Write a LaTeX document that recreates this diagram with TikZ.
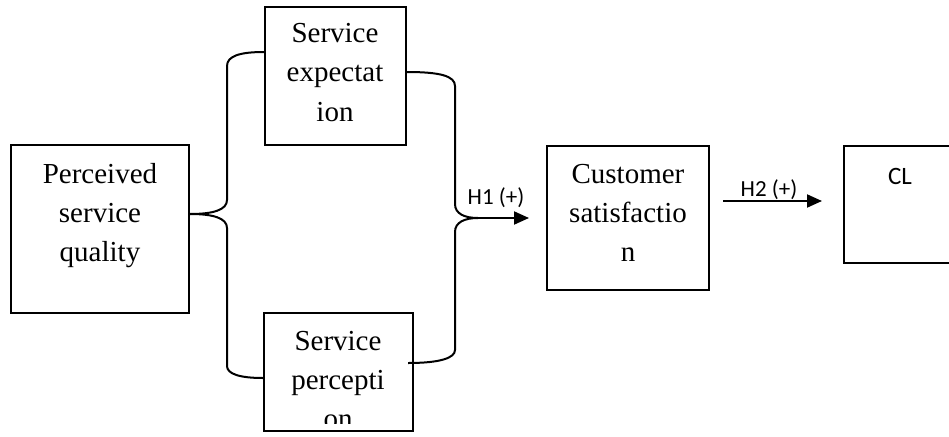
\documentclass[tikz,border=0pt]{standalone}
\usepackage{fontspec}
\setmainfont{Liberation Serif}
\newfontfamily\carlitofont{Carlito}
\usetikzlibrary{arrows.meta}
\tikzset{
  box/.style={draw, line width=2pt, inner sep=0pt},
  line/.style={line width=2pt},
  arr/.style={line width=2pt, -{Triangle[length=15pt,width=13pt]}},
  boxtext/.style={anchor=base, inner sep=0pt, font=\fontsize{29}{39}\selectfont},
  hlab/.style={anchor=base, inner sep=0pt, font=\carlitofont\fontsize{23}{26}\selectfont}
}
\begin{document}
\begin{tikzpicture}[x=1pt,y=-1pt]
\clip (0,0) rectangle (949,436);
% boxes
\node[box, minimum width=178pt, minimum height=168pt] (pq) at (100,229) {};
\node[box, minimum width=141pt, minimum height=138pt] (se) at (335.5,76) {};
\node[box, minimum width=149pt, minimum height=118pt] (sp) at (338.5,372) {};
\node[box, minimum width=162pt, minimum height=144pt] (cs) at (628,218) {};
\node[box, minimum width=156pt, minimum height=117pt] (cl) at (922,204.5) {};
% texts
\node[boxtext] (tpq) at (100,183) {\begin{tabular}[t]{@{}c@{}}Perceived\\service\\quality\end{tabular}};
\node[boxtext] (tse) at (335,43) {\begin{tabular}[t]{@{}c@{}}Service\\expectat\\ion\end{tabular}};
\begin{scope}
\clip (250,315) rectangle (430,423);
\node[boxtext] (tsp) at (338,350) {\begin{tabular}[t]{@{}c@{}}Service\\percepti\\on\end{tabular}};
\end{scope}
\node[boxtext] (tcs) at (628,183) {\begin{tabular}[t]{@{}c@{}}Customer\\satisfactio\\n\end{tabular}};
\node[hlab, font=\carlitofont\fontsize{25}{28}\selectfont] (tcl) at (900,184) {CL};
% left brace
\draw[line] ([yshift=15pt]pq.east) .. controls (213,214) and (227,210) .. (227,200)
  -- (227,66) .. controls (227,56) and (240,52) .. ([yshift=24pt]se.west);
\draw[line] ([yshift=15pt]pq.east) .. controls (213,214) and (227,218) .. (227,228)
  -- (227,366) .. controls (227,374) and (240,378) .. ([yshift=-6pt]sp.west);
% right brace
\coordinate (rj) at (478,218);
\draw[line] ([yshift=4pt]se.east) .. controls (440,72) and (455,76) .. (455,86)
  -- (455,204) .. controls (455,214) and (465,218) .. (rj);
\draw[line] ([xshift=-6pt,yshift=9pt]sp.east) .. controls (440,363) and (455,358) .. (455,350)
  -- (455,232) .. controls (455,222) and (465,218) .. (rj);
\draw[arr, shorten >=17pt] (rj) -- (cs.west);
\node[hlab] (h1) at (496,204) {H1 (+)};
% H2
\draw[arr, shorten >=21pt] ([xshift=13pt,yshift=17pt]cs.east) -- ([yshift=3.5pt]cl.west);
\node[hlab] (h2) at (769,196) {H2 (+)};
\end{tikzpicture}
\end{document}
